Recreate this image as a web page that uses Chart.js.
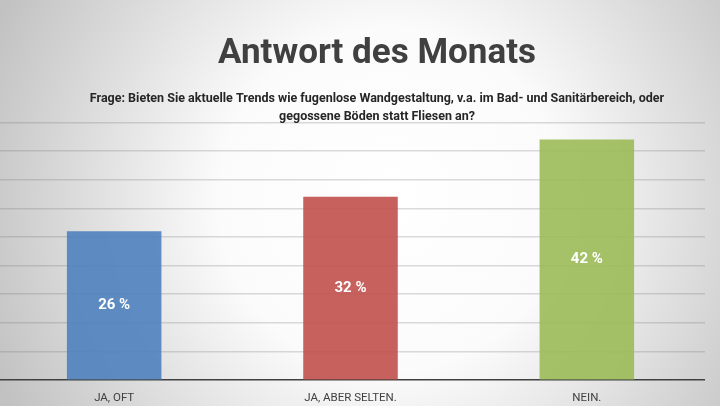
<!DOCTYPE html>
<html>
<head>
<meta charset="utf-8">
<script src="https://cdn.jsdelivr.net/npm/chart.js@4.4.1/dist/chart.umd.min.js"></script>
<style>
  html, body { margin: 0; padding: 0; overflow: hidden; height: 406px; }
  #wrap { width: 724px; height: 418px; margin-left: -4px; }
</style>
</head>
<body>
<div id="wrap"><canvas id="myChart"></canvas></div>
<script>
const categories = ["JA, OFT", "JA, ABER SELTEN.", "NEIN."];
const values = [26, 32, 42];
const barColors = ["rgba(79,129,189,0.9)", "rgba(192,80,77,0.9)", "rgba(155,187,89,0.9)"];
const titleText = "Antwort des Monats";
const questionLines = [
  "Frage: Bieten Sie aktuelle Trends wie fugenlose Wandgestaltung, v.a. im Bad- und Sanitärbereich, oder",
  "gegossene Böden statt Fliesen an?",
];
const yMax = 45;
const yStep = 5;

const fontFamily = "Roboto, 'Noto Sans', sans-serif";

const elementChart = document.querySelector("#myChart");

// canvas sits 4px left of the page, so page x + 4 = canvas x
const backgroundPlugin = {
  id: "background",
  beforeDraw: (chart) => {
    const { ctx, width, height } = chart;
    const g = ctx.createRadialGradient(394, 200, 0, 394, 200, 430);
    g.addColorStop(0, "#ffffff");
    g.addColorStop(0.4, "#fbfbfb");
    g.addColorStop(1, "#c2c2c2");
    ctx.save();
    ctx.fillStyle = g;
    ctx.fillRect(0, 0, width, height);
    ctx.restore();
  },
};

const headingPlugin = {
  id: "heading",
  afterDraw: (chart) => {
    const { ctx } = chart;
    const cx = 381;
    ctx.save();
    ctx.textAlign = "center";
    ctx.textBaseline = "alphabetic";
    ctx.fillStyle = "#404040";
    ctx.font = "bold 35px " + fontFamily;
    ctx.fillText(titleText, cx, 62.5);
    ctx.fillStyle = "#262626";
    ctx.font = "bold 12.5px " + fontFamily;
    questionLines.forEach((line, i) => {
      ctx.fillText(line, cx, 102 + i * 17.5);
    });
    ctx.restore();
  },
};

const valueLabels = {
  id: "valueLabels",
  afterDatasetsDraw: (chart) => {
    const { ctx } = chart;
    const meta = chart.getDatasetMeta(0);
    ctx.save();
    ctx.font = "bold 15px " + fontFamily;
    ctx.fillStyle = "#ffffff";
    ctx.textAlign = "center";
    ctx.textBaseline = "middle";
    meta.data.forEach((bar, i) => {
      ctx.fillText(values[i] + " %", bar.x, (bar.y + bar.base) / 2);
    });
    ctx.restore();
  },
};

const data = {
  labels: categories,
  datasets: [
    {
      data: values,
      backgroundColor: barColors,
      borderWidth: 0,
      barPercentage: 0.4,
      categoryPercentage: 1,
    },
  ],
};

const configChart = {
  type: "bar",
  data: data,
  plugins: [backgroundPlugin, valueLabels, headingPlugin],
  options: {
    responsive: true,
    maintainAspectRatio: false,
    animation: false,
    layout: { padding: { left: 0, right: 15, top: 122.3, bottom: 2 } },
    plugins: {
      legend: { display: false },
      tooltip: { enabled: false },
      title: { display: false },
    },
    scales: {
      x: {
        grid: { display: false, drawTicks: false },
        border: { display: false },
        ticks: {
          color: "#404040",
          padding: 11,
          maxRotation: 0,
          font: { family: fontFamily, size: 11.5 },
        },
      },
      y: {
        min: 0,
        max: yMax,
        ticks: { display: false, stepSize: yStep },
        border: { display: false },
        grid: {
          drawTicks: false,
          lineWidth: 1.5,
          color: (ctx) => (ctx.tick && ctx.tick.value === 0 ? "#404040" : "rgba(110,110,110,0.25)"),
        },
      },
    },
  },
};

const myChart = new Chart(elementChart, configChart);
</script>
</body>
</html>
